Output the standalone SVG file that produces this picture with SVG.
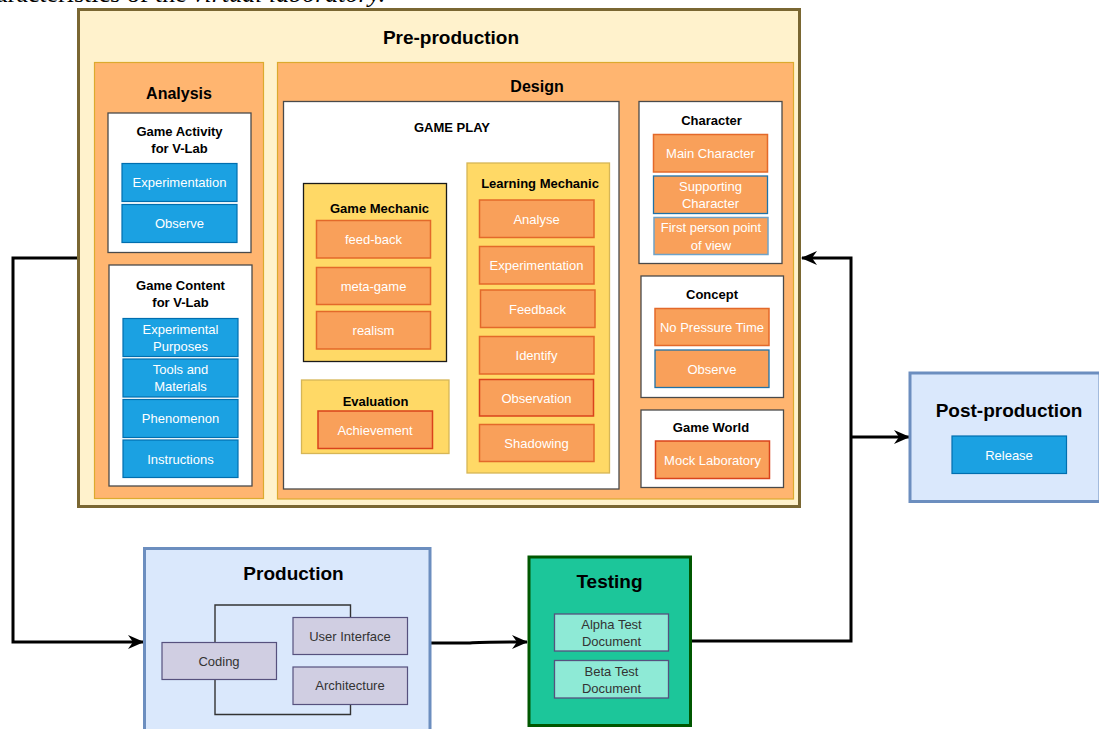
<svg xmlns="http://www.w3.org/2000/svg" width="1099" height="729" viewBox="0 0 1099 729">
  <style>
    .t { font-family: "Liberation Sans", Arial, sans-serif; text-anchor: middle; dominant-baseline: central; }
    .h1 { font-size: 19px; font-weight: bold; fill: #000; }
    .h2 { font-size: 16px; font-weight: bold; fill: #000; }
    .h3 { font-size: 13px; font-weight: bold; fill: #000; }
    .w { font-size: 13px; fill: #fff; }
    .d { font-size: 13px; fill: #333; }
    .pre { fill: #fff2cc; stroke: #7a6732; stroke-width: 3; }
    .phase { fill: #ffb570; stroke: #dcaa2e; stroke-width: 1.2; }
    .panel { fill: #fff; stroke: #4a4a4a; stroke-width: 1.3; }
    .blue { fill: #1ba1e2; stroke: #006eaf; stroke-width: 1.2; }
    .yel { fill: #ffd966; stroke: #d6b656; stroke-width: 1.3; }
    .yelk { fill: #ffd966; stroke: #1a1a1a; stroke-width: 1.3; }
    .org { fill: #f9a05a; stroke: #e3692a; stroke-width: 1.5; }
    .orgr { fill: #f9a05a; stroke: #d9431c; stroke-width: 1.5; }
    .orgb { fill: #f9a05a; stroke: #1f72a8; stroke-width: 1.3; }
    .orgl { fill: #f9a05a; stroke: #6fa3c8; stroke-width: 1.5; }
    .lblue { fill: #dae8fc; stroke: #6c8ebf; stroke-width: 3; }
    .purp { fill: #d0cee2; stroke: #56517e; stroke-width: 1.2; }
    .tst { fill: #1cc69a; stroke: #005700; stroke-width: 3; }
    .teal { fill: #8eead6; stroke: #56517e; stroke-width: 1.3; }
    .link { fill: none; stroke: #000; stroke-width: 3; }
    .thin { fill: none; stroke: #333; stroke-width: 1.4; }
  </style>
  <defs>
    <marker id="arrow" viewBox="0 0 16 14" refX="15" refY="7" markerWidth="16" markerHeight="14" markerUnits="userSpaceOnUse" orient="auto">
      <path d="M0,0 L16,7 L0,14 L5,7 Z" fill="#000"/>
    </marker>
  </defs>

  <!-- caption line clipped at the top edge -->
  <text x="-4" y="2" font-family="'Liberation Serif', 'Times New Roman', serif" font-size="26" fill="#000">aracteristics of the <tspan font-style="italic">virtual laboratory.</tspan></text>

  <!-- connectors -->
  <g id="connectors">
    <path class="link" d="M77,258 H13 V642 H143" marker-end="url(#arrow)"/>
    <path class="link" d="M431,643 H470 Q480,642 527,642" marker-end="url(#arrow)"/>
    <path class="link" d="M692,641 H851 V258 H802" marker-end="url(#arrow)"/>
    <path class="link" d="M851,437 H909" marker-end="url(#arrow)"/>
  </g>

  <!-- pre-production -->
  <g id="pre-production">
    <rect class="pre" x="78.5" y="9.5" width="721" height="497"/>
    <text class="t h1" x="451" y="37">Pre-production</text>
  </g>

  <g id="analysis">
    <rect class="phase" x="94.5" y="62.5" width="169" height="436"/>
    <text class="t h2" x="179" y="93">Analysis</text>
  </g>

  <g id="game-activity">
    <rect class="panel" x="108" y="113" width="143" height="139.5"/>
    <text class="t h3" x="179.5" y="131">Game Activity</text>
    <text class="t h3" x="179.5" y="148">for V-Lab</text>
    <rect class="blue" x="122" y="163.5" width="115" height="38"/>
    <text class="t w" x="179.5" y="182.5">Experimentation</text>
    <rect class="blue" x="122" y="204.5" width="115" height="38"/>
    <text class="t w" x="179.5" y="223.5">Observe</text>
  </g>

  <g id="game-content">
    <rect class="panel" x="109" y="265" width="143" height="221"/>
    <text class="t h3" x="180.5" y="285">Game Content</text>
    <text class="t h3" x="180.5" y="302">for V-Lab</text>
    <rect class="blue" x="123" y="318.5" width="115" height="38"/>
    <text class="t w" x="180.5" y="329">Experimental</text>
    <text class="t w" x="180.5" y="346">Purposes</text>
    <rect class="blue" x="123" y="359" width="115" height="38"/>
    <text class="t w" x="180.5" y="369.5">Tools and</text>
    <text class="t w" x="180.5" y="386.5">Materials</text>
    <rect class="blue" x="123" y="399.5" width="115" height="38"/>
    <text class="t w" x="180.5" y="418.5">Phenomenon</text>
    <rect class="blue" x="123" y="440" width="115" height="37.5"/>
    <text class="t w" x="180.5" y="459">Instructions</text>
  </g>

  <g id="design">
    <rect class="phase" x="277.5" y="62.5" width="516" height="436.5"/>
    <text class="t h2" x="537" y="86">Design</text>
  </g>

  <g id="game-play">
    <rect class="panel" x="283.5" y="101.5" width="335.5" height="387.5"/>
    <text class="t h3" x="452" y="127">GAME PLAY</text>
  </g>

  <g id="game-mechanic">
    <rect class="yelk" x="303.5" y="183.5" width="143" height="178"/>
    <text class="t h3" x="379.5" y="208">Game Mechanic</text>
    <rect class="org" x="316.5" y="220.5" width="114" height="37.5"/>
    <text class="t w" x="373.5" y="239">feed-back</text>
    <rect class="org" x="316.5" y="267.5" width="114" height="37"/>
    <text class="t w" x="373.5" y="286">meta-game</text>
    <rect class="org" x="316.5" y="311.5" width="114" height="37.5"/>
    <text class="t w" x="373.5" y="330">realism</text>
  </g>

  <g id="evaluation">
    <rect class="yel" x="301.5" y="380" width="147.5" height="73.5"/>
    <text class="t h3" x="375.5" y="401.5">Evaluation</text>
    <rect class="orgr" x="318" y="411" width="114.5" height="37.5"/>
    <text class="t w" x="375" y="430">Achievement</text>
  </g>

  <g id="learning-mechanic">
    <rect class="yel" x="467" y="163" width="142.5" height="310"/>
    <text class="t h3" x="540" y="183.5">Learning Mechanic</text>
    <rect class="org" x="479.5" y="200" width="114.5" height="37.5"/>
    <text class="t w" x="536.5" y="219">Analyse</text>
    <rect class="org" x="479.5" y="246.5" width="114.5" height="37.5"/>
    <text class="t w" x="536.5" y="265">Experimentation</text>
    <rect class="org" x="480.5" y="290" width="114.5" height="37.5"/>
    <text class="t w" x="537.5" y="309">Feedback</text>
    <rect class="org" x="479.5" y="336.5" width="114.5" height="37.5"/>
    <text class="t w" x="536.5" y="355">Identify</text>
    <rect class="orgr" x="479.5" y="379.5" width="114" height="36.5"/>
    <text class="t w" x="536.5" y="398">Observation</text>
    <rect class="org" x="479.5" y="424.5" width="114.5" height="37"/>
    <text class="t w" x="536.5" y="443">Shadowing</text>
  </g>

  <g id="character">
    <rect class="panel" x="639" y="101.5" width="143" height="162"/>
    <text class="t h3" x="711.5" y="120">Character</text>
    <rect class="org" x="653.5" y="134.5" width="114" height="37.5"/>
    <text class="t w" x="710.5" y="153.5">Main Character</text>
    <rect class="orgb" x="653.5" y="176" width="114" height="37.5"/>
    <text class="t w" x="710.5" y="186">Supporting</text>
    <text class="t w" x="710.5" y="203.5">Character</text>
    <rect class="orgl" x="654" y="217.5" width="114" height="37"/>
    <text class="t w" x="711" y="227.5">First person point</text>
    <text class="t w" x="711" y="245">of view</text>
  </g>

  <g id="concept">
    <rect class="panel" x="641" y="276" width="142.5" height="121.5"/>
    <text class="t h3" x="712" y="294.5">Concept</text>
    <rect class="org" x="655" y="308.5" width="114" height="37"/>
    <text class="t w" x="712" y="327">No Pressure Time</text>
    <rect class="orgb" x="655" y="350" width="114" height="37.5"/>
    <text class="t w" x="712" y="369">Observe</text>
  </g>

  <g id="game-world">
    <rect class="panel" x="641" y="410" width="142.5" height="77.5"/>
    <text class="t h3" x="711" y="427.5">Game World</text>
    <rect class="orgr" x="655.5" y="441" width="114" height="37.5"/>
    <text class="t w" x="712.5" y="460">Mock Laboratory</text>
  </g>

  <!-- post-production -->
  <g id="post-production">
    <rect class="lblue" x="910" y="373" width="190" height="128.5"/>
    <text class="t h1" x="1009" y="410">Post-production</text>
    <rect class="blue" x="952" y="436" width="114.5" height="37.5"/>
    <text class="t w" x="1009" y="455">Release</text>
  </g>

  <!-- production -->
  <g id="production">
    <rect class="lblue" x="144.5" y="548.5" width="285.5" height="190"/>
    <text class="t h1" x="293.5" y="573.5">Production</text>
    <path class="thin" d="M215,642 V605 H350.5 V617"/>
    <path class="thin" d="M215,679 V714.5 H350.5 V704"/>
    <rect class="purp" x="162" y="642.5" width="114.5" height="37"/>
    <text class="t d" x="219" y="661">Coding</text>
    <rect class="purp" x="293" y="617.5" width="114.5" height="37"/>
    <text class="t d" x="350" y="636">User Interface</text>
    <rect class="purp" x="293" y="667" width="114.5" height="37.5"/>
    <text class="t d" x="350" y="685.5">Architecture</text>
  </g>

  <!-- testing -->
  <g id="testing">
    <rect class="tst" x="529" y="557" width="161.5" height="168.5"/>
    <text class="t h1" x="609.5" y="581">Testing</text>
    <rect class="teal" x="554.5" y="614" width="114" height="37"/>
    <text class="t d" x="611.5" y="624.5">Alpha Test</text>
    <text class="t d" x="611.5" y="641.5">Document</text>
    <rect class="teal" x="554.5" y="660.5" width="114" height="37.5"/>
    <text class="t d" x="611.5" y="671">Beta Test</text>
    <text class="t d" x="611.5" y="688">Document</text>
  </g>
</svg>
